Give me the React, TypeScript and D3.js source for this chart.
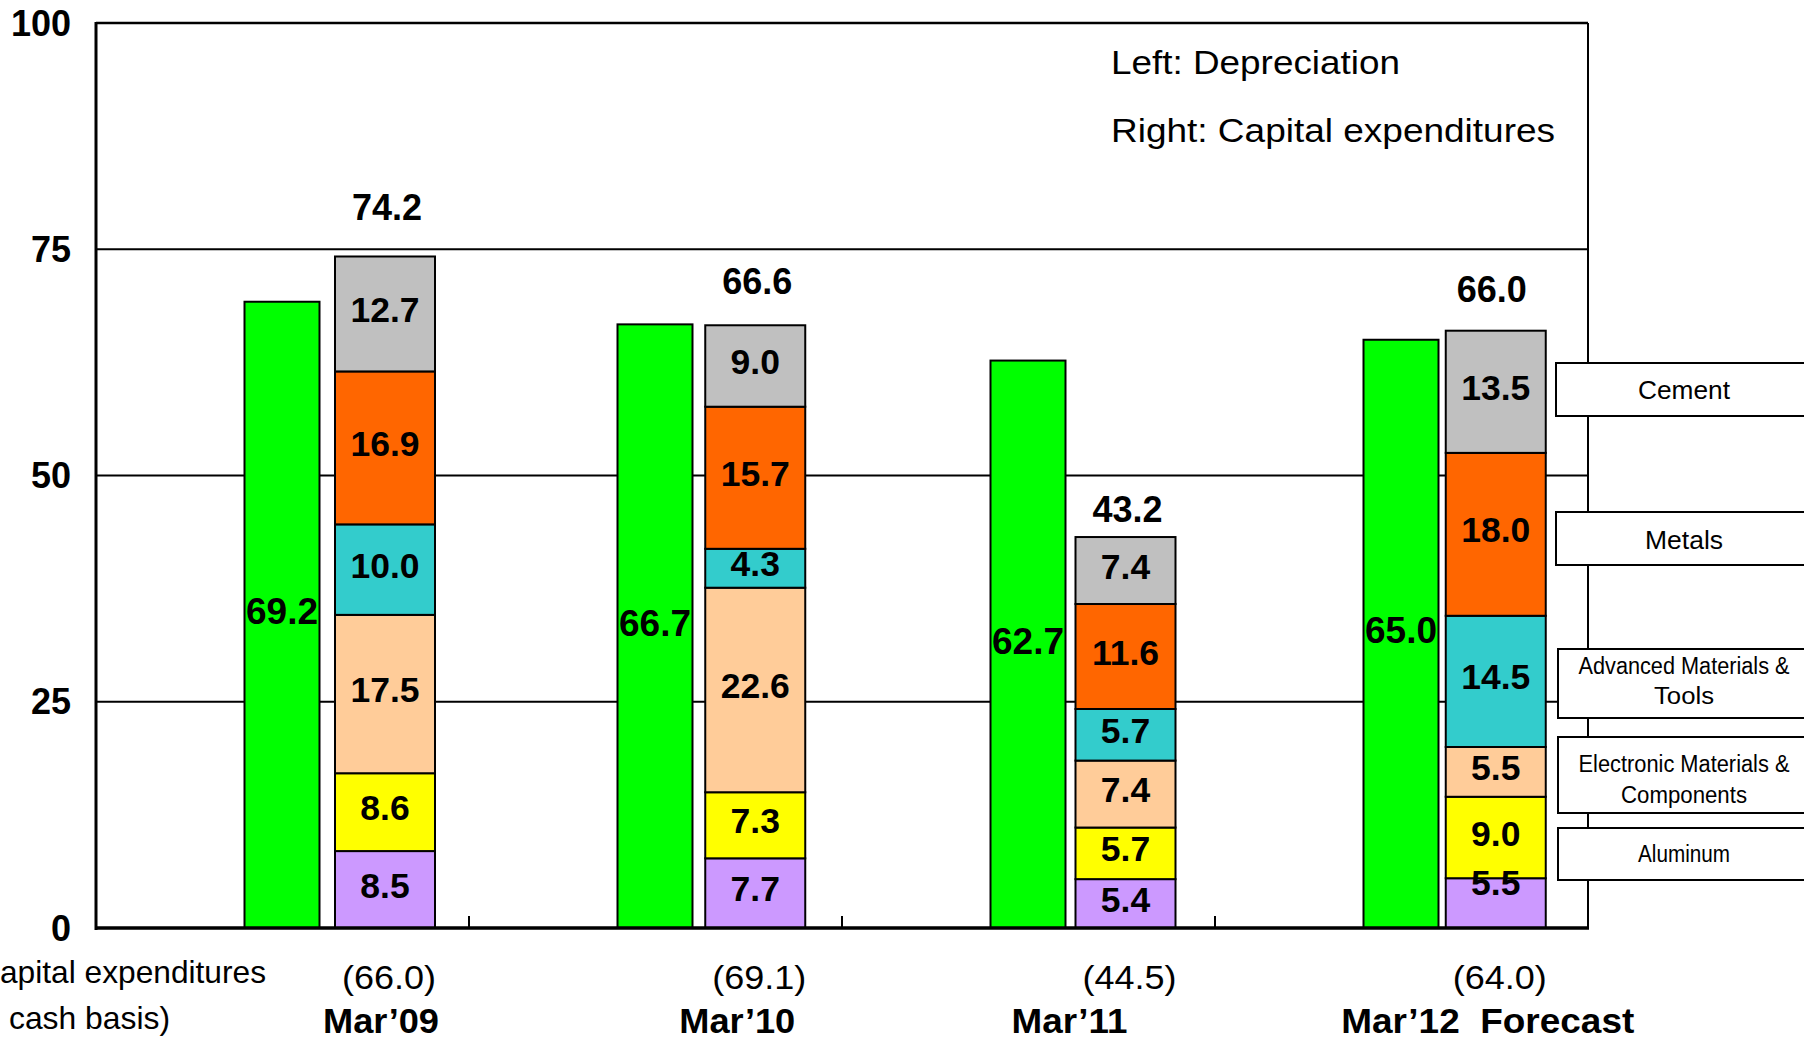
import React from 'react';
import * as d3 from 'd3';

// ---------- data ----------
const categories = ["Mar'09", "Mar'10", "Mar'11", "Mar'12"];
const categoryLabels = ["Mar\u201909", "Mar\u201910", "Mar\u201911", "Mar\u201912  Forecast"];
const depreciation = [69.2, 66.7, 62.7, 65.0];
const capexTotals = [74.2, 66.6, 43.2, 66.0];
const cashBasis = ["(66.0)", "(69.1)", "(44.5)", "(64.0)"];
const otherVals = [8.5, 7.7, 5.4, 5.5];
const aluminumVals = [8.6, 7.3, 5.7, 9.0];
const electronicVals = [17.5, 22.6, 7.4, 5.5];
const advancedVals = [10.0, 4.3, 5.7, 14.5];
const metalsVals = [16.9, 15.7, 11.6, 18.0];
const cementVals = [12.7, 9.0, 7.4, 13.5];
const segmentKeys = ['other', 'aluminum', 'electronic', 'advanced', 'metals', 'cement'];
const yTicks = [0, 25, 50, 75, 100];
const legendLabels = [
  ['Cement'],
  ['Metals'],
  ['Advanced Materials &', 'Tools'],
  ['Electronic Materials &', 'Components'],
  ['Aluminum'],
];

// ---------- style ----------
const colors: Record<string, string> = {
  other: '#CC99FF',
  aluminum: '#FFFF00',
  electronic: '#FFCC99',
  advanced: '#33CCCC',
  metals: '#FF6600',
  cement: '#C0C0C0',
};
const depColor = '#00FF00';
const FONT = '"Liberation Sans", Arial, Helvetica, sans-serif';
const NARROW = '"Liberation Sans Narrow", "Arial Narrow", "Liberation Sans", Arial, sans-serif';

const W = 1804;
const H = 1041;
const left = 96;
const right = 1588;
const top = 23;
const bottom = 928;

// per-category label tweaks (layout)
const totalLift = [36, 31, 15, 29];
const catShift = [-4, -18, -56, -8];
const labelNudge: Record<string, number> = { 'other-3': -16 };
const legendBoxes = [
  { x: 1556, y0: 363, y1: 416, narrow: false, lines: [390] },
  { x: 1556, y0: 512, y1: 565, narrow: false, lines: [540] },
  { x: 1558, y0: 649, y1: 718, narrow: true, lines: [666, 696] },
  { x: 1558, y0: 737, y1: 813, narrow: true, lines: [764, 795] },
  { x: 1558, y0: 828, y1: 880, narrow: true, lines: [854] },
];
const legendWidths = [[92], [78], [211, 60], [211, 126], [92]];

export default function App() {
  const x0 = d3.scaleBand<string>().domain(categories).range([left, right]).padding(0);
  const xc = d3.scaleBand<string>().domain(categories).range([left, right - 11]).padding(0);
  const y = d3.scaleLinear().domain([0, 100]).range([bottom, top]);
  const depOff = 148.5;
  const depW = 75;
  const capOff = 239;
  const capW = 100;
  const capCenter = (c: string) => xc(c)! + capOff + capW / 2;

  const table = categories.map((c, i) => ({
    cat: c,
    other: otherVals[i],
    aluminum: aluminumVals[i],
    electronic: electronicVals[i],
    advanced: advancedVals[i],
    metals: metalsVals[i],
    cement: cementVals[i],
  }));
  const stack = d3.stack<any>().keys(segmentKeys)(table);

  return (
    <svg
      width={W}
      height={H}
      style={{ position: 'absolute', left: 0, top: 0, background: '#fff' }}
      fontFamily={FONT}
    >
      <rect x={0} y={0} width={W} height={H} fill="#fff" />
      {/* gridlines */}
      {yTicks.filter((t) => t > 0 && t < 100).map((t) => (
        <line key={t} x1={left} x2={right} y1={y(t)} y2={y(t)} stroke="#000" strokeWidth={2} />
      ))}
      {/* frame */}
      <line x1={left} x2={right} y1={y(100)} y2={y(100)} stroke="#000" strokeWidth={2.5} />
      <line x1={right} x2={right} y1={y(100)} y2={bottom} stroke="#000" strokeWidth={2} />
      {/* y tick labels */}
      {yTicks.map((t) => (
        <text key={t} x={71} y={y(t)} textAnchor="end" dominantBaseline="central" fontWeight="bold" fontSize={36}>
          {t}
        </text>
      ))}
      {/* depreciation bars */}
      {categories.map((c, i) => (
        <g key={c}>
          <rect
            x={x0(c)! + depOff}
            y={y(depreciation[i])}
            width={depW}
            height={y(0) - y(depreciation[i])}
            fill={depColor}
            stroke="#000"
            strokeWidth={2}
          />
          <text
            x={x0(c)! + depOff + depW / 2}
            y={y(depreciation[i] / 2) - 3}
            textAnchor="middle"
            dominantBaseline="central"
            fontWeight="bold"
            fontSize={37}
          >
            {depreciation[i].toFixed(1)}
          </text>
        </g>
      ))}
      {/* capex stacked */}
      {stack.map((layer) => (
        <g key={layer.key}>
          {layer.map((d: any, i: number) => (
            <rect
              key={i}
              x={xc(categories[i])! + capOff}
              y={y(d[1])}
              width={capW}
              height={y(d[0]) - y(d[1])}
              fill={colors[layer.key]}
              stroke="#000"
              strokeWidth={2}
            />
          ))}
        </g>
      ))}
      {stack.map((layer) => (
        <g key={layer.key + 't'}>
          {layer.map((d: any, i: number) => (
            <text
              key={i}
              x={capCenter(categories[i])}
              y={y((d[0] + d[1]) / 2) - 4 + (labelNudge[layer.key + '-' + i] || 0)}
              textAnchor="middle"
              dominantBaseline="central"
              fontWeight="bold"
              fontSize={35.5}
            >
              {(d[1] - d[0]).toFixed(1)}
            </text>
          ))}
        </g>
      ))}
      {/* totals */}
      {categories.map((c, i) => (
        <text
          key={c}
          x={capCenter(c) + (i === 3 ? -4 : 2)}
          y={y(capexTotals[i]) - totalLift[i]}
          textAnchor="middle"
          fontWeight="bold"
          fontSize={36}
        >
          {capexTotals[i].toFixed(1)}
        </text>
      ))}
      {/* left axis and bottom axis */}
      <line x1={left} x2={left} y1={top - 1} y2={bottom + 2} stroke="#000" strokeWidth={3} />
      <line x1={left - 1} x2={right + 1} y1={bottom} y2={bottom} stroke="#000" strokeWidth={3.5} />
      {categories.slice(1).map((c) => (
        <line key={c} x1={x0(c)!} x2={x0(c)!} y1={bottom} y2={bottom - 12} stroke="#000" strokeWidth={2} />
      ))}
      {/* annotation */}
      <text x={1111} y={62} dominantBaseline="central" fontSize={34} textLength={289} lengthAdjust="spacingAndGlyphs">
        Left: Depreciation
      </text>
      <text x={1111} y={130} dominantBaseline="central" fontSize={34} textLength={444} lengthAdjust="spacingAndGlyphs">
        Right: Capital expenditures
      </text>
      {/* bottom labels */}
      <text x={266} y={972} textAnchor="end" dominantBaseline="central" fontFamily={NARROW} fontSize={32} textLength={266} lengthAdjust="spacingAndGlyphs">
        apital expenditures
      </text>
      <text x={9} y={1018} dominantBaseline="central" fontFamily={NARROW} fontSize={32} textLength={161} lengthAdjust="spacingAndGlyphs">
        cash basis)
      </text>
      {categories.map((c, i) => (
        <g key={c + 'b'}>
          <text
            x={capCenter(c) + 4}
            y={977}
            textAnchor="middle"
            dominantBaseline="central"
            fontFamily={NARROW}
            fontSize={34}
            textLength={94}
            lengthAdjust="spacingAndGlyphs"
          >
            {cashBasis[i]}
          </text>
          <text
            x={capCenter(c) + catShift[i]}
            y={1033}
            textAnchor="middle"
            fontFamily={NARROW}
            fontWeight="bold"
            fontSize={35}
            textLength={i === 3 ? 293 : 116}
            lengthAdjust="spacingAndGlyphs"
            style={{ whiteSpace: 'pre' }}
          >
            {categoryLabels[i]}
          </text>
        </g>
      ))}
      {/* legend boxes */}
      {legendBoxes.map((b, i) => (
        <g key={i}>
          <rect x={b.x} y={b.y0} width={W + 20 - b.x} height={b.y1 - b.y0} fill="#fff" stroke="#000" strokeWidth={2} />
          {legendLabels[i].map((ln, j) => (
            <text
              key={j}
              x={1684}
              y={b.lines[j]}
              textAnchor="middle"
              dominantBaseline="central"
              fontFamily={b.narrow ? NARROW : FONT}
              fontSize={b.narrow ? 23 : 26}
              textLength={legendWidths[i][j]}
              lengthAdjust="spacingAndGlyphs"
            >
              {ln}
            </text>
          ))}
        </g>
      ))}
    </svg>
  );
}
